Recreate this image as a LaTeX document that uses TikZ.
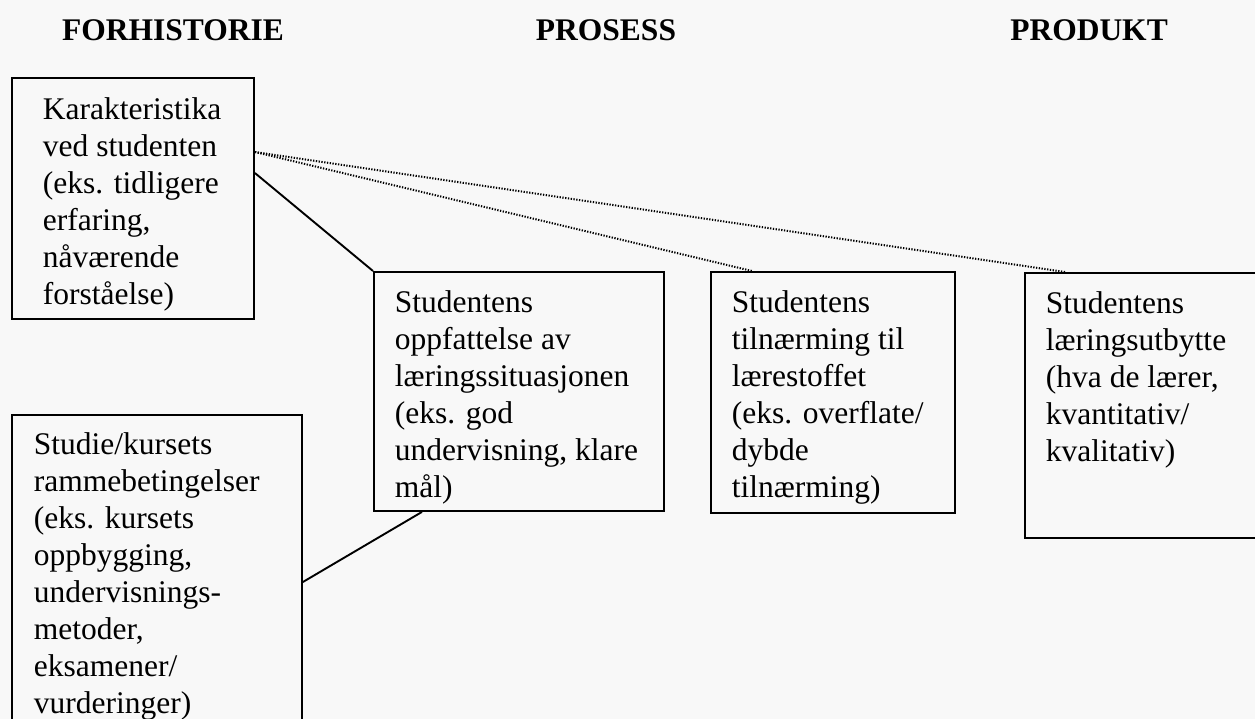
\documentclass[tikz,border=0pt]{standalone}
\usepackage{fontspec}
\setmainfont{Liberation Serif}
\definecolor{paper}{RGB}{248,248,248}
% box text: total width, height, left padding, first baseline depth, lines
\newcommand\boxtext[5]{\hspace*{#3}\parbox[c][#2][t]{\dimexpr#1-#3\relax}{\rule{0pt}{#4}#5}}
\begin{document}
\begin{tikzpicture}[x=1pt,y=-1pt,
  every node/.style={font=\fontsize{31.5pt}{37pt}\selectfont},
  box/.style={draw, line width=1.9pt, inner sep=0pt, anchor=north west},
  heading/.style={font=\fontsize{31.5pt}{37pt}\selectfont\bfseries, anchor=base, inner sep=0pt},
  link/.style={line width=1.9pt},
  hint/.style={line width=2pt, dash pattern=on 1.3pt off 1.5pt}]
\fill[paper] (0,0) rectangle (1255,719);
\useasboundingbox (0,0) rectangle (1255,719);

% column headings
\node[heading] (h1) at (173,41) {FORHISTORIE};
\node[heading] (h2) at (606,41) {PROSESS};
\node[heading] (h3) at (1089,41) {PRODUKT};

% presage factors
\node[box] (ved) at (11,77) {\boxtext{242pt}{241pt}{31pt}{42pt}{Karakteristika\\ved studenten\\(eks. tidligere\\erfaring,\\nåværende\\forståelse)}};
\node[box] (ram) at (11,414) {\boxtext{290pt}{330pt}{22pt}{40pt}{Studie/kursets\\rammebetingelser\\(eks. kursets\\oppbygging,\\undervisnings-\\metoder,\\eksamener/\\vurderinger)}};

% process factors
\node[box] (opp) at (373,271) {\boxtext{290pt}{239pt}{21pt}{41pt}{Studentens\\oppfattelse av\\læringssituasjonen\\(eks. god\\undervisning, klare\\mål)}};
\node[box] (tiln) at (710,271) {\boxtext{244pt}{241pt}{21pt}{41pt}{Studentens\\tilnærming til\\lærestoffet\\(eks. overflate/\\dybde\\tilnærming)}};

% product
\node[box] (utb) at (1024,272) {\boxtext{270pt}{265pt}{21pt}{41pt}{Studentens\\læringsutbytte\\(hva de lærer,\\kvantitativ/\\kvalitativ)}};

% connections
\draw[link] ([yshift=-96pt]ved.north east) -- (opp.north west);
\draw[link] ([yshift=-168pt]ram.north east) -- ([xshift=49pt]opp.south west);
\draw[hint] ([yshift=-75pt]ved.north east) -- ([xshift=42pt]tiln.north west);
\draw[hint] ([yshift=-75pt]ved.north east) -- ([xshift=41pt]utb.north west);
\end{tikzpicture}
\end{document}
